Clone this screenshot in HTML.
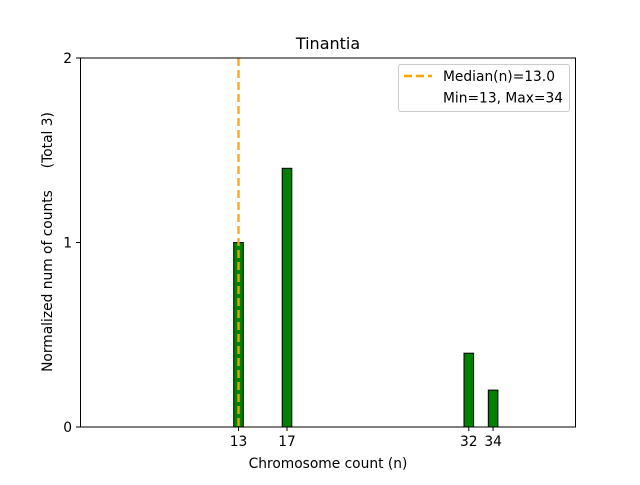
<!DOCTYPE html>
<html><head><meta charset="utf-8"><style>body{margin:0;background:#fff}</style></head>
<body>
<svg width="640" height="480" xmlns="http://www.w3.org/2000/svg" font-family="DejaVu Sans, Liberation Sans, sans-serif" font-size="13.8">
<rect width="640" height="480" fill="#fff"/>
<text x="328" y="49" font-size="16" text-anchor="middle">Tinantia</text>
<g fill="#008000" stroke="#000" stroke-width="1">
<rect x="233.7" y="242.5" width="9.6" height="184.5"/>
<rect x="282.2" y="168.3" width="9.6" height="258.7"/>
<rect x="464" y="353.2" width="9.6" height="73.8"/>
<rect x="488.3" y="390.1" width="9.6" height="36.9"/>
</g>
<line x1="238.5" y1="58" x2="238.5" y2="427" stroke="#FFA500" stroke-width="2.5" stroke-dasharray="8,4" opacity="0.9"/>
<rect x="80.5" y="58" width="495" height="369" fill="none" stroke="#000" stroke-width="1"/>
<g stroke="#000">
<line x1="76" y1="427" x2="80.5" y2="427"/><line x1="76" y1="242.5" x2="80.5" y2="242.5"/><line x1="76" y1="58" x2="80.5" y2="58"/>
<line x1="238.5" y1="427" x2="238.5" y2="431"/><line x1="287" y1="427" x2="287" y2="431"/><line x1="468.8" y1="427" x2="468.8" y2="431"/><line x1="493.1" y1="427" x2="493.1" y2="431"/>
</g>
<g text-anchor="end"><text x="72" y="432">0</text><text x="72" y="247.5">1</text><text x="72" y="63">2</text></g>
<g text-anchor="middle"><text x="238.5" y="446">13</text><text x="287" y="446">17</text><text x="468.8" y="446">32</text><text x="493.1" y="446">34</text></g>
<text x="328" y="468" text-anchor="middle">Chromosome count (n)</text>
<text transform="translate(52,242) rotate(-90)" text-anchor="middle" xml:space="preserve">Normalized num of counts     (Total 3)</text>
<rect x="398.5" y="64.5" width="171" height="47" rx="2" fill="#fff" stroke="#ccc"/>
<line x1="404" y1="76" x2="432" y2="76" stroke="#FFA500" stroke-width="2.5" stroke-dasharray="8,4"/>
<text x="443" y="81">Median(n)=13.0</text>
<text x="443" y="102.5">Min=13, Max=34</text>
</svg>
</body></html>
